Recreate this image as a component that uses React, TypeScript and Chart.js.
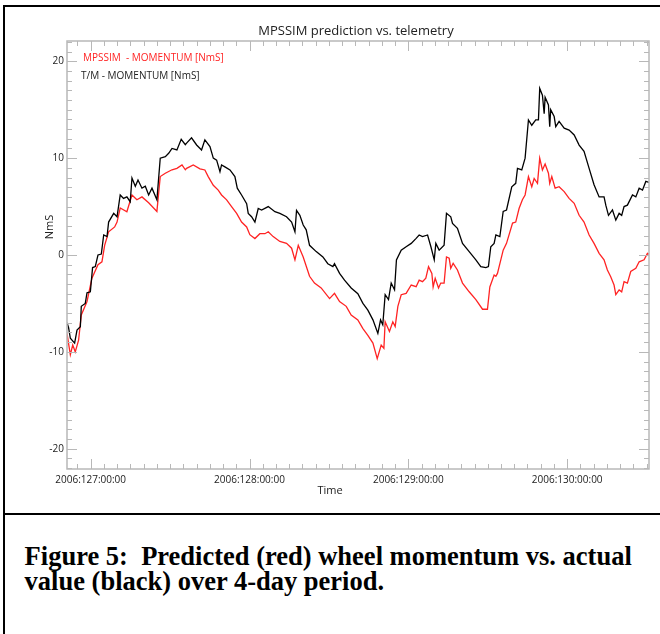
import React, { useEffect, useRef } from "react";
import { Chart, registerables } from "chart.js";

Chart.register(...registerables);

// ---- text ----
const TITLE = "MPSSIM prediction vs. telemetry";
const X_TITLE = "Time";
const Y_TITLE = "NmS";
const PRED_LABEL = "MPSSIM  - MOMENTUM [NmS]";
const TM_LABEL = "T/M - MOMENTUM [NmS]";
const CAPTION_LINES = [
  "Figure 5:  Predicted (red) wheel momentum vs. actual",
  "value (black) over 4-day period.",
];

// ---- axes ----
const DAY_TICKS = [127, 128, 129, 130];
const Y_TICKS = [-20, -10, 0, 10, 20];
const X_MIN = 126.851;
const X_MAX = 130.515;
const Y_MIN = -22.1;
const Y_MAX = 22.1;

// ---- data: time in fractional day-of-year 2006, momentum in NmS ----
const tmTime = [
  126.851, 126.861, 126.872, 126.899, 126.914, 126.935, 126.941, 126.966, 126.977, 126.998,
  127.012, 127.029, 127.046, 127.067, 127.082, 127.103, 127.113, 127.145, 127.166, 127.186,
  127.207, 127.228, 127.249, 127.26, 127.281, 127.298, 127.323, 127.344, 127.365, 127.386,
  127.417, 127.438, 127.47, 127.491, 127.512, 127.543, 127.57, 127.596, 127.604, 127.635,
  127.667, 127.698, 127.719, 127.751, 127.772, 127.793, 127.814, 127.824, 127.845, 127.877,
  127.908, 127.923, 127.95, 127.982, 127.992, 128.013, 128.034, 128.055, 128.076, 128.118,
  128.16, 128.191, 128.233, 128.265, 128.286, 128.296, 128.317, 128.338, 128.357, 128.378,
  128.42, 128.462, 128.493, 128.525, 128.535, 128.567, 128.598, 128.64, 128.682, 128.714,
  128.745, 128.777, 128.808, 128.825, 128.839, 128.854, 128.875, 128.892, 128.913, 128.925,
  128.955, 128.986, 129.018, 129.049, 129.068, 129.089, 129.121, 129.142, 129.163, 129.173,
  129.194, 129.225, 129.24, 129.267, 129.278, 129.309, 129.341, 129.383, 129.425, 129.456,
  129.488, 129.504, 129.519, 129.54, 129.551, 129.576, 129.597, 129.618, 129.651, 129.676,
  129.687, 129.714, 129.735, 129.756, 129.777, 129.802, 129.819, 129.827, 129.844, 129.855,
  129.861, 129.882, 129.89, 129.896, 129.918, 129.928, 129.949, 129.981, 130.012, 130.044,
  130.075, 130.106, 130.138, 130.169, 130.201, 130.232, 130.243, 130.26, 130.285, 130.306,
  130.327, 130.343, 130.358, 130.379, 130.411, 130.432, 130.453, 130.474, 130.495, 130.515,
];
const tmMomentum = [
  -7.0, -7.5, -8.6, -9.1, -7.75, -7.4, -5.3, -5.0, -3.9, -3.8,
  -1.3, -1.2, 0.0, 0.1, 2.07, 1.9, 3.4, 4.3, 3.95, 6.2,
  5.85, 6.0, 5.5, 7.95, 7.1, 7.75, 6.9, 7.1, 6.2, 6.9,
  5.7, 10.0, 10.15, 10.5, 11.0, 10.85, 11.95, 11.4, 11.55, 12.1,
  11.36, 10.85, 11.9, 11.2, 10.0, 9.8, 8.6, 9.3, 9.1, 8.78,
  8.1, 6.9, 6.2, 5.3, 4.3, 3.95, 3.4, 4.8, 4.65, 5.0,
  4.47, 4.3, 3.95, 3.4, 2.4, 4.6, 4.1, 3.1, 2.6, 1.0,
  0.35, -0.2, -0.9, -1.2, -0.9, -1.9, -2.6, -3.4, -4.0, -5.0,
  -5.7, -6.7, -8.1, -6.7, -7.2, -4.1, -4.6, -2.9, -3.6, -0.5,
  0.5, 0.86, 1.2, 1.72, 2.07, 1.9, 2.07, 0.85, -0.5, 1.2,
  0.5, 1.0, 4.3, 3.95, 3.27, 2.75, 1.2, 0.35, -0.5, -1.2,
  -1.3, -1.2, 0.85, 1.2, 2.07, 1.9, 4.5, 4.65, 7.05, 7.4,
  8.95, 8.78, 10.0, 13.95, 13.4, 13.95, 13.95, 17.2, 16.5, 14.6,
  16.3, 15.5, 13.25, 15.0, 14.3, 13.25, 13.8, 13.1, 12.9, 12.4,
  11.35, 10.7, 8.95, 7.25, 6.0, 6.0, 5.15, 4.1, 4.65, 3.6,
  4.3, 4.1, 5.0, 5.15, 6.2, 6.0, 6.9, 6.7, 7.6, 7.5,
];

const predTime = [
  126.851, 126.872, 126.887, 126.903, 126.924, 126.941, 126.977, 127.008, 127.046, 127.071,
  127.088, 127.113, 127.151, 127.166, 127.186, 127.228, 127.26, 127.291, 127.323, 127.365,
  127.417, 127.438, 127.47, 127.512, 127.543, 127.575, 127.596, 127.604, 127.646, 127.688,
  127.719, 127.74, 127.772, 127.803, 127.824, 127.856, 127.887, 127.919, 127.95, 127.982,
  128.002, 128.034, 128.065, 128.097, 128.118, 128.149, 128.191, 128.233, 128.265, 128.286,
  128.307, 128.338, 128.378, 128.409, 128.451, 128.504, 128.535, 128.567, 128.609, 128.64,
  128.682, 128.714, 128.745, 128.777, 128.804, 128.829, 128.846, 128.854, 128.881, 128.902,
  128.917, 128.934, 128.955, 128.986, 129.018, 129.049, 129.068, 129.089, 129.11, 129.127,
  129.148, 129.156, 129.169, 129.19, 129.204, 129.225, 129.24, 129.257, 129.267, 129.282,
  129.309, 129.341, 129.383, 129.425, 129.467, 129.498, 129.513, 129.54, 129.551, 129.561,
  129.597, 129.618, 129.656, 129.676, 129.697, 129.718, 129.735, 129.756, 129.777, 129.792,
  129.813, 129.827, 129.844, 129.861, 129.882, 129.89, 129.903, 129.924, 129.949, 129.981,
  130.012, 130.044, 130.075, 130.106, 130.138, 130.169, 130.201, 130.232, 130.253, 130.274,
  130.295, 130.306, 130.327, 130.343, 130.358, 130.379, 130.4, 130.432, 130.453, 130.484,
  130.505, 130.515,
];
const predMomentum = [
  -8.1, -10.3, -9.3, -10.0, -8.8, -6.2, -4.8, -2.4, -1.0, -0.7,
  1.0, 2.4, 2.9, 3.4, 4.85, 4.47, 6.2, 5.7, 6.0, 5.4,
  4.5, 8.1, 8.44, 8.8, 8.95, 9.3, 8.8, 8.95, 9.3, 8.9,
  8.78, 8.1, 7.2, 6.7, 6.2, 5.7, 5.0, 4.3, 3.4, 2.9,
  2.1, 1.7, 2.2, 2.2, 2.4, 1.9, 1.4, 1.2, 0.7, -0.5,
  1.0, -0.2, -2.2, -2.9, -3.4, -4.5, -3.96, -4.8, -5.3, -6.2,
  -6.7, -7.6, -8.3, -9.1, -10.7, -9.3, -9.64, -6.9, -7.9, -6.9,
  -7.4, -5.3, -4.1, -3.96, -3.1, -3.27, -2.6, -2.75, -2.4, -1.2,
  -1.9, -3.3, -2.4, -3.4, -2.9, -2.9, -0.2, -0.34, -1.38, -0.86,
  -1.55, -2.9, -3.8, -4.6, -5.6, -5.6, -3.3, -2.07, -2.2, -1.9,
  0.5, 1.2, 3.3, 3.4, 4.8, 5.7, 6.2, 8.1, 7.05, 7.9,
  7.4, 10.0, 8.78, 9.4, 8.44, 7.4, 8.1, 6.9, 7.05, 6.55,
  5.85, 5.34, 4.1, 3.4, 2.07, 1.2, 0.17, -0.5, -1.55, -2.24,
  -3.1, -4.1, -3.6, -3.8, -2.75, -2.9, -1.7, -1.38, -0.7, -0.5,
  0.17, 0.1,
];

// ---- styles ----
const RED = "#ff2323";
const BLACK = "#000000";
const AXIS_COLOR = "#b8b8b8";
const TEXT_COLOR = "#222222";
const SANS = "'Open Sans', 'Noto Sans', sans-serif";

const framePlugin = {
  id: "idlFrame",
  afterDatasetsDraw(chart: any) {
    const { ctx, chartArea: a, scales } = chart;
    const x = scales.x;
    const y = scales.y;
    ctx.save();
    ctx.strokeStyle = AXIS_COLOR;
    ctx.lineWidth = 1.5;
    ctx.strokeRect(a.left, a.top, a.right - a.left, a.bottom - a.top);
    ctx.lineWidth = 1;
    ctx.beginPath();
    for (let t = Math.ceil(x.min * 12); t <= Math.floor(x.max * 12); t++) {
      const px = Math.round(x.getPixelForValue(t / 12)) + 0.5;
      const len = t % 12 === 0 ? 10 : 5;
      ctx.moveTo(px, a.bottom);
      ctx.lineTo(px, a.bottom - len);
      ctx.moveTo(px, a.top);
      ctx.lineTo(px, a.top + len);
    }
    for (let v = Math.ceil(y.min); v <= Math.floor(y.max); v++) {
      const py = Math.round(y.getPixelForValue(v)) + 0.5;
      const len = v % 10 === 0 ? 10 : 5;
      ctx.moveTo(a.left, py);
      ctx.lineTo(a.left + len, py);
      ctx.moveTo(a.right, py);
      ctx.lineTo(a.right - len, py);
    }
    ctx.stroke();

    // title
    ctx.fillStyle = TEXT_COLOR;
    ctx.font = `13px ${SANS}`;
    ctx.textAlign = "center";
    ctx.textBaseline = "alphabetic";
    ctx.fillText(TITLE, 356, 35);

    // legend
    ctx.font = `10px ${SANS}`;
    ctx.textAlign = "left";
    ctx.fillStyle = RED;
    ctx.fillText(PRED_LABEL, 83, 61);
    ctx.fillStyle = TEXT_COLOR;
    ctx.fillText(TM_LABEL, 81, 78.5);

    // axis titles
    ctx.font = `11px ${SANS}`;
    ctx.textAlign = "center";
    ctx.fillText(X_TITLE, 330, 494);
    ctx.save();
    ctx.translate(53, 227);
    ctx.rotate(-Math.PI / 2);
    ctx.fillText(Y_TITLE, 0, 0);
    ctx.restore();
    ctx.restore();
  },
};

export default function App() {
  const canvasRef = useRef<HTMLCanvasElement | null>(null);

  useEffect(() => {
    const canvas = canvasRef.current;
    if (!canvas) return;
    const tm = tmTime.map((t, i) => ({ x: t, y: tmMomentum[i] }));
    const pred = predTime.map((t, i) => ({ x: t, y: predMomentum[i] }));
    const chart = new Chart(canvas, {
      type: "line",
      data: {
        datasets: [
          {
            label: TM_LABEL,
            data: tm,
            borderColor: BLACK,
            borderWidth: 1.3,
            pointRadius: 0,
            tension: 0,
            fill: false,
          },
          {
            label: PRED_LABEL,
            data: pred,
            borderColor: RED,
            borderWidth: 1.3,
            pointRadius: 0,
            tension: 0,
            fill: false,
          },
        ],
      },
      options: {
        responsive: false,
        animation: false,
        devicePixelRatio: 1,
        layout: { padding: { left: 0, top: 41, right: 11, bottom: 0 } },
        plugins: {
          legend: { display: false },
          title: { display: false },
          tooltip: { enabled: false },
        },
        scales: {
          x: {
            type: "linear",
            min: X_MIN,
            max: X_MAX,
            grid: { display: false, drawTicks: false },
            border: { display: false },
            afterBuildTicks: (s: any) => {
              s.ticks = DAY_TICKS.map((v) => ({ value: v }));
            },
            afterFit: (s: any) => {
              s.height = 46;
            },
            ticks: {
              autoSkip: false,
              maxRotation: 0,
              padding: 5,
              color: TEXT_COLOR,
              font: { family: SANS, size: 10 },
              callback: (v: any) => `2006:${v}:00:00`,
            },
          },
          y: {
            type: "linear",
            min: Y_MIN,
            max: Y_MAX,
            grid: { display: false, drawTicks: false },
            border: { display: false },
            afterBuildTicks: (s: any) => {
              s.ticks = Y_TICKS.map((v) => ({ value: v }));
            },
            afterFit: (s: any) => {
              s.width = 67;
            },
            ticks: {
              padding: 3,
              color: TEXT_COLOR,
              font: { family: SANS, size: 10 },
              callback: (v: any) => `${v}`,
            },
          },
        },
      },
      plugins: [framePlugin],
    });
    return () => chart.destroy();
  }, []);

  return (
    <div
      style={{
        position: "fixed",
        left: 0,
        top: 0,
        width: 660,
        height: 634,
        background: "#ffffff",
        overflow: "hidden",
      }}
    >
      <canvas
        ref={canvasRef}
        width={660}
        height={515}
        style={{ position: "absolute", left: 0, top: 0, width: 660, height: 515, display: "block" }}
      />
      <div style={{ position: "absolute", left: 3, top: 5, width: 657, height: 2, background: "#000" }} />
      <div style={{ position: "absolute", left: 3, top: 5, width: 2, height: 629, background: "#000" }} />
      <div style={{ position: "absolute", left: 3, top: 513, width: 657, height: 2, background: "#000" }} />
      <div
        style={{
          position: "absolute",
          left: 24.6,
          top: 544,
          fontFamily: "'Liberation Serif', 'Times New Roman', serif",
          fontWeight: "bold",
          fontSize: 26.5,
          lineHeight: "25px",
          whiteSpace: "pre",
          color: "#000",
        }}
      >
        {CAPTION_LINES.map((l, i) => (
          <div key={i}>{l}</div>
        ))}
      </div>
    </div>
  );
}
